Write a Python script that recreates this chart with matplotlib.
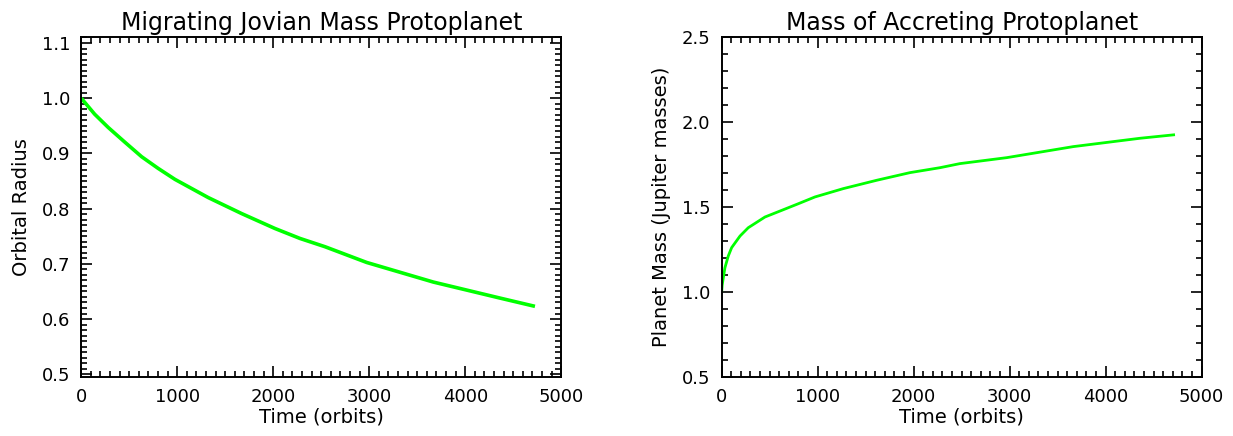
import numpy as np
import matplotlib
matplotlib.use("Agg")
import matplotlib.pyplot as plt
from matplotlib.ticker import MultipleLocator

t_radius = [0, 140, 281, 450, 629, 800, 976, 1323, 1671, 2018, 2278, 2539,
            2973, 3667, 4361, 4726]
radius = [1.0, 0.971, 0.947, 0.921, 0.894, 0.873, 0.853, 0.820, 0.791, 0.764,
          0.746, 0.731, 0.7025, 0.667, 0.638, 0.623]

t_mass = [0, 5, 17, 34, 69, 104, 191, 277, 451, 625, 798, 972, 1267, 1615,
          1962, 2274, 2482, 2969, 3663, 4357, 4722]
mass = [1.0, 1.04, 1.084, 1.143, 1.212, 1.261, 1.329, 1.378, 1.441, 1.48,
        1.519, 1.559, 1.608, 1.657, 1.702, 1.731, 1.755, 1.79, 1.855, 1.904,
        1.925]

TITLES = ["Migrating Jovian Mass Protoplanet", "Mass of Accreting Protoplanet"]
YLABELS = ["Orbital Radius", "Planet Mass (Jupiter masses)"]
XLABEL = "Time (orbits)"

GREEN = "#00ff00"
TICKSIZE = 13
LBLSIZE = 14
TITLESIZE = 17

plt.rcParams['font.family'] = ['DejaVu Sans']

fig = plt.figure(figsize=(12.33, 4.36), dpi=100)
ax1 = fig.add_axes([0.0659, 0.1353, 0.3893, 0.780])
ax2 = fig.add_axes([0.5853, 0.1353, 0.3893, 0.780])


def style(ax, ymaj, ymin):
    ax.set_xlim(0, 5000)
    ax.xaxis.set_major_locator(MultipleLocator(1000))
    ax.xaxis.set_minor_locator(MultipleLocator(100))
    ax.yaxis.set_major_locator(MultipleLocator(ymaj))
    ax.yaxis.set_minor_locator(MultipleLocator(ymin))
    ax.tick_params(which='both', direction='in', top=True, right=True,
                   width=1.2, labelsize=TICKSIZE, pad=8)
    ax.tick_params(which='major', length=8)
    ax.tick_params(which='minor', length=4)
    for s in ax.spines.values():
        s.set_linewidth(1.4)
    ax.set_xlabel(XLABEL, size=LBLSIZE, labelpad=1)


ax1.plot(t_radius, radius, color=GREEN, linewidth=2.6, solid_capstyle='butt')
style(ax1, 0.1, 0.01)
ax1.set_ylim(0.495, 1.111)
ax1.set_yticks(np.arange(0.5, 1.101, 0.1))
ax1.set_yticklabels([f'{v:.1f}' for v in np.arange(0.5, 1.101, 0.1)])
ax1.set_title(TITLES[0], size=TITLESIZE, pad=5)
ax1.set_ylabel(YLABELS[0], size=LBLSIZE, labelpad=8)

ax2.plot(t_mass, mass, color=GREEN, linewidth=2.0, solid_capstyle='butt')
style(ax2, 0.5, 0.1)
ax2.set_ylim(0.5, 2.5)
ax2.set_yticklabels([f'{v:.1f}' for v in ax2.get_yticks()])
ax2.set_title(TITLES[1], size=TITLESIZE, pad=5)
ax2.set_ylabel(YLABELS[1], size=LBLSIZE, labelpad=8)

plt.savefig("out.png", dpi=100)
